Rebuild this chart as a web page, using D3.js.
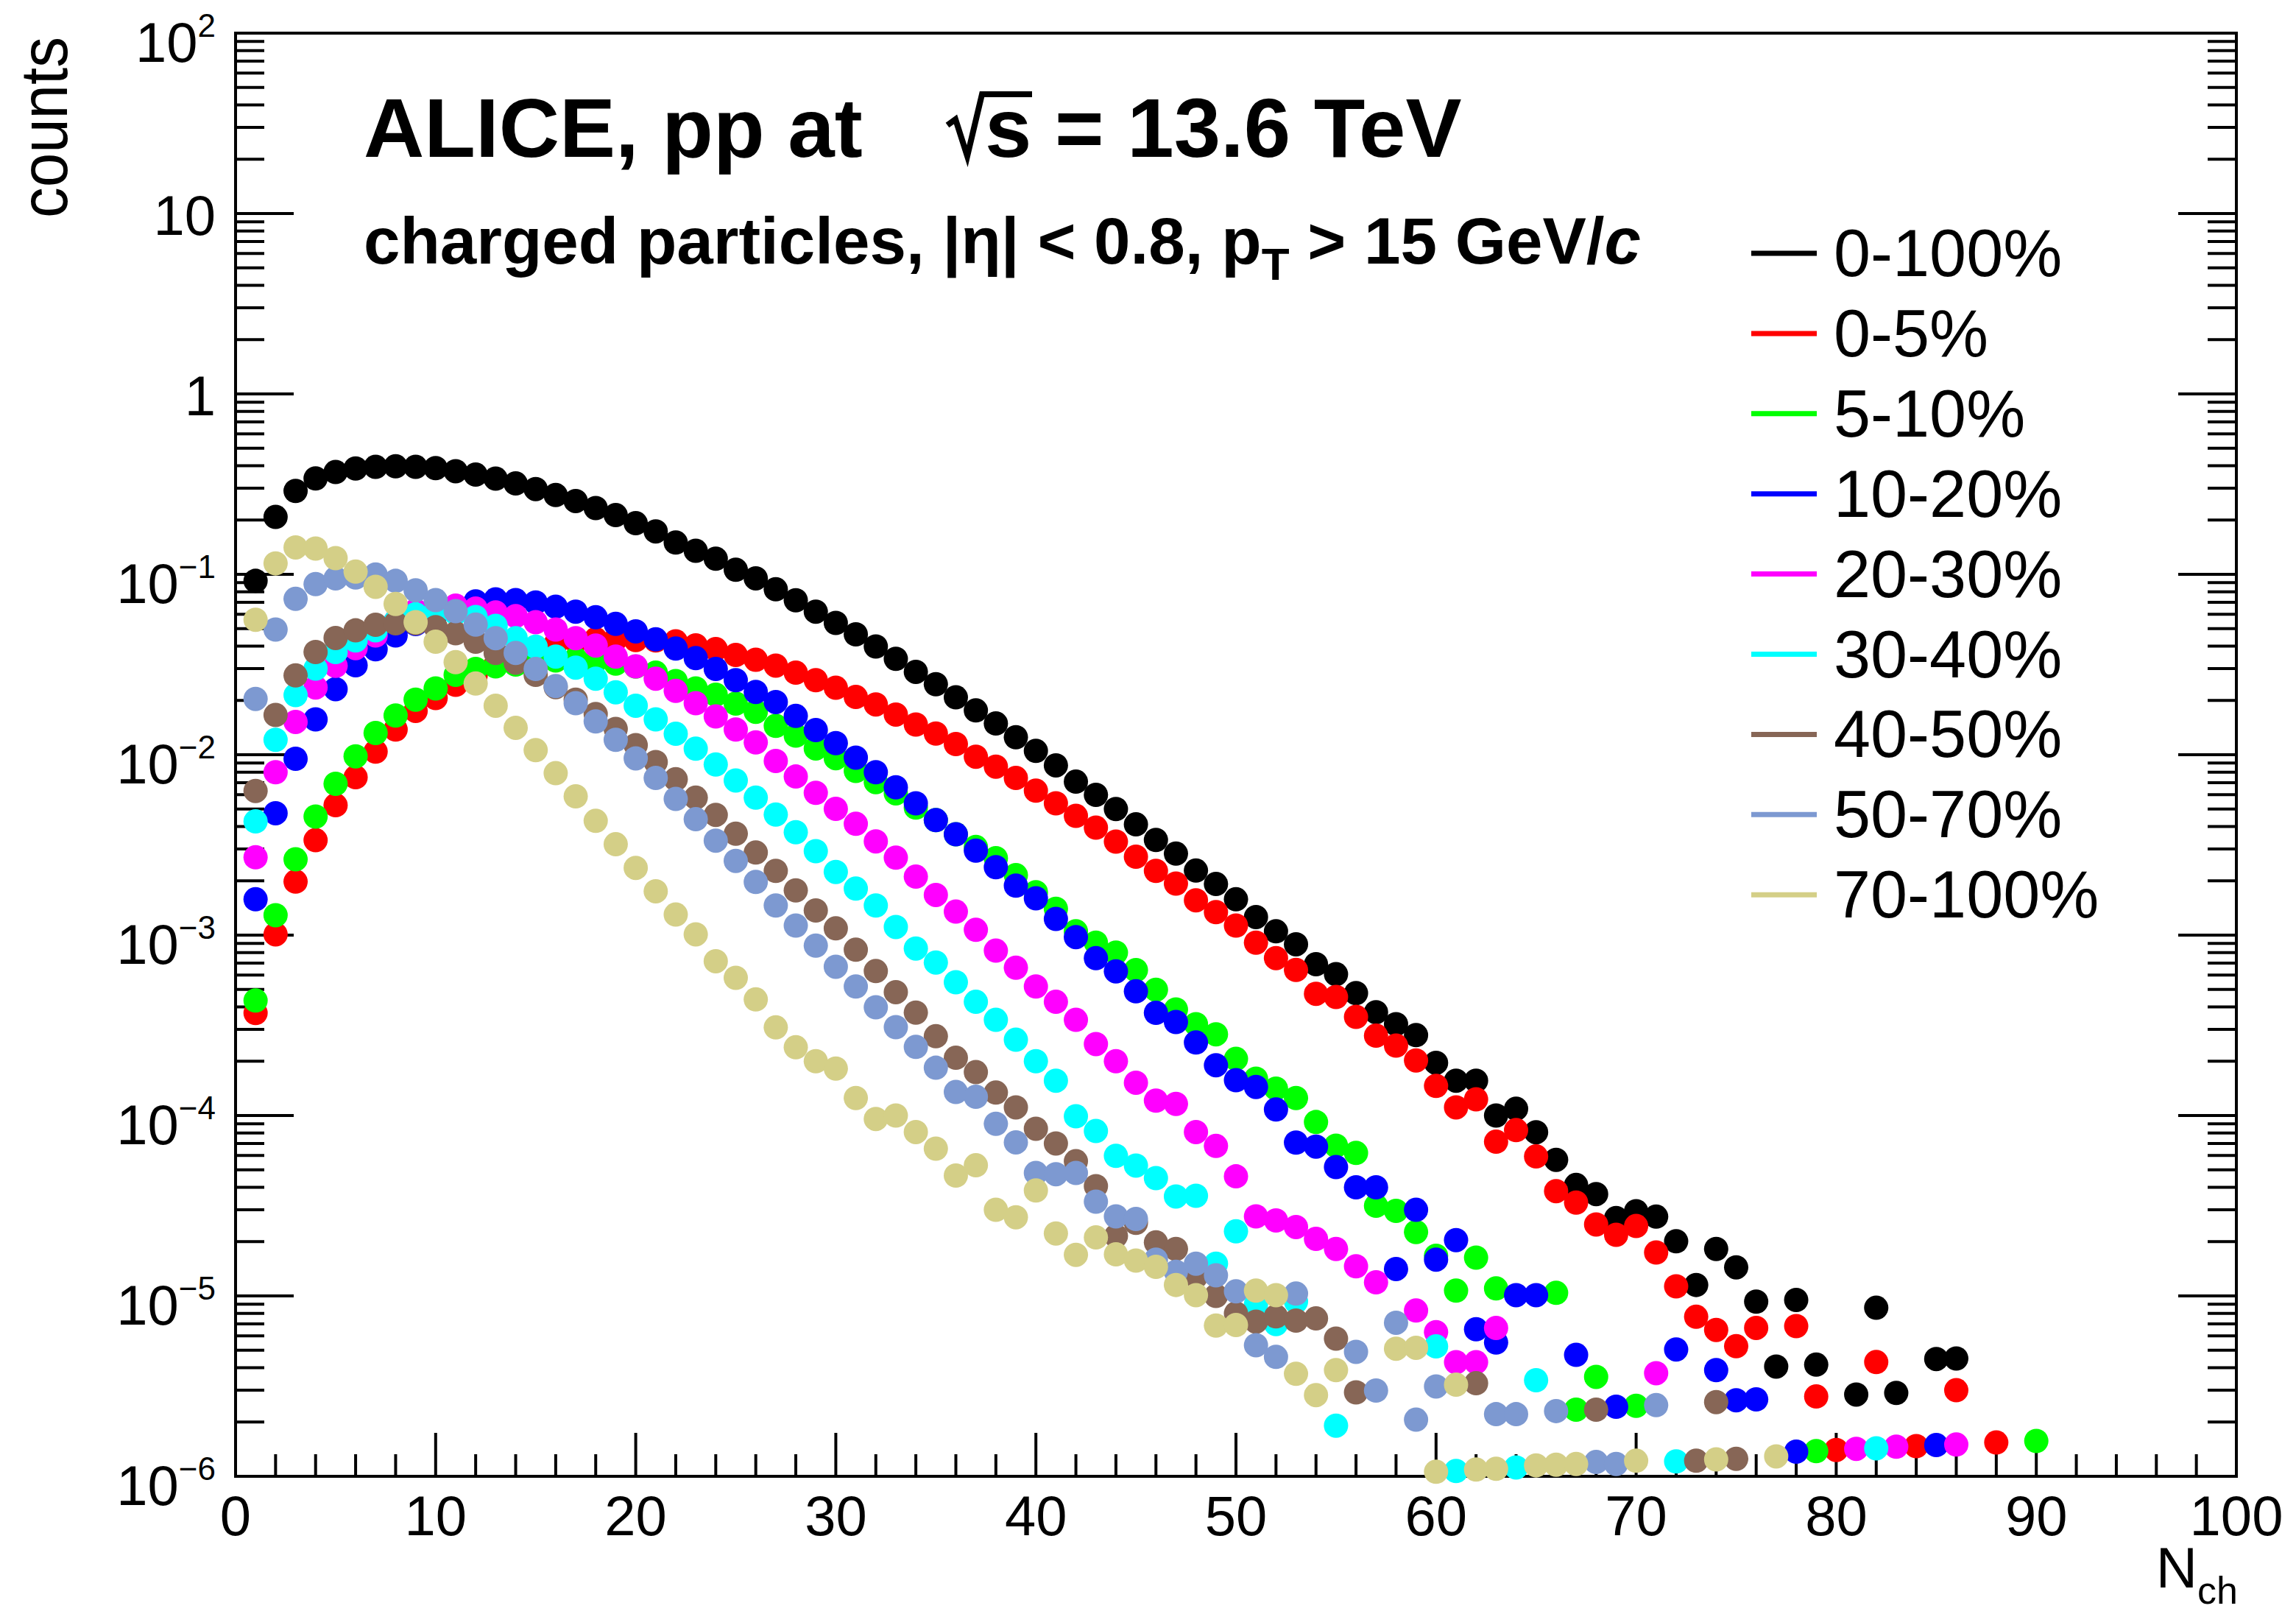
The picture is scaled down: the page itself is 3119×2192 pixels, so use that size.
<!DOCTYPE html>
<html>
<head>
<meta charset="utf-8">
<script src="https://cdn.jsdelivr.net/npm/d3@7"></script>
<style>
  body { margin: 0; background: #fff; }
  svg { display: block; }
  text { font-family: "Liberation Sans", Arial, Helvetica, sans-serif; }
</style>
</head>
<body>
<svg id="chart" width="3119" height="2192"></svg>
<script>
// Multiplicity of charged particles (|eta| < 0.8, pT > 15 GeV/c), normalised counts.
// Each array starts at Nch = 1; null marks an empty bin.
const nchStart = 1;

const centralityLabels = ["0-100%", "0-5%", "5-10%", "10-20%", "20-30%", "30-40%", "40-50%", "50-70%", "70-100%"];
const centralityColors = ["#000000", "#ff0000", "#00ff00", "#0000ff", "#ff00ff", "#00ffff", "#876656", "#7d99d1", "#d4cf87"];

const cent0_100 = [
  0.092, 0.208, 0.29, 0.34, 0.369, 0.386, 0.394, 0.397, 0.394, 0.388,
  0.373, 0.357, 0.339, 0.319, 0.297, 0.275, 0.255, 0.233, 0.213, 0.192,
  0.173, 0.150, 0.135, 0.122, 0.106, 0.095, 0.0826, 0.0718, 0.0621, 0.0538,
  0.0465, 0.0398, 0.034, 0.0288, 0.0246, 0.0208, 0.0176, 0.0149, 0.0125, 0.0105,
  0.00873, 0.00709, 0.00599, 0.0050, 0.00411, 0.00337, 0.00283, 0.00228, 0.00192, 0.00158,
  0.00126, 0.00105, 0.00089, 6.9e-4, 6.07e-4, 4.77e-4, 3.74e-4, 3.21e-4, 2.79e-4, 1.96e-4,
  1.56e-4, 1.56e-4, 1.0e-4, 1.09e-4, 8.08e-5, 5.68e-5, 4.12e-5, 3.67e-5, 2.70e-5, 2.95e-5,
  2.75e-5, 2.01e-5, 1.15e-5, 1.82e-5, 1.44e-5, 9.3e-6, 4.06e-6, 9.5e-6, 4.16e-6, null,
  2.84e-6, 8.6e-6, 2.9e-6, null, 4.47e-6, 4.5e-6
];

const cent0_5 = [
  3.7e-4, 1.01e-3, 1.98e-3, 3.36e-3, 5.25e-3, 7.5e-3, 0.0104, 0.0138, 0.0175, 0.0206,
  0.0244, 0.0275, 0.0316, 0.0355, 0.0389, 0.0412, 0.0427, 0.0437, 0.0437, 0.0432,
  0.043, 0.0425, 0.0404, 0.0385, 0.0357, 0.0336, 0.0312, 0.0285, 0.0259, 0.0235,
  0.0209, 0.0190, 0.0167, 0.0147, 0.0131, 0.01146, 0.00975, 0.00859, 0.00743, 0.00632,
  0.00538, 0.00458, 0.00394, 0.00330, 0.00272, 0.00227, 0.00193, 0.00156, 0.00134, 0.00113,
  9.08e-4, 7.46e-4, 6.41e-4, 4.73e-4, 4.54e-4, 3.52e-4, 2.77e-4, 2.44e-4, 2.02e-4, 1.46e-4,
  1.11e-4, 1.23e-4, 7.16e-5, 8.3e-5, 5.93e-5, 3.81e-5, 3.29e-5, 2.49e-5, 2.18e-5, 2.44e-5,
  1.74e-5, 1.13e-5, 7.66e-6, 6.48e-6, 5.26e-6, 6.65e-6, null, 6.8e-6, 2.77e-6, 1.4e-6,
  null, 4.3e-6, null, 1.47e-6, null, 3.0e-6, null, 1.54e-6
];

const cent5_10 = [
  4.34e-4, 1.29e-3, 2.63e-3, 4.54e-3, 6.9e-3, 9.8e-3, 0.0132, 0.0165, 0.0202, 0.0233,
  0.0277, 0.0299, 0.0309, 0.0316, 0.0324, 0.0333, 0.0339, 0.0331, 0.032, 0.0308,
  0.0285, 0.0256, 0.0233, 0.0215, 0.0192, 0.0173, 0.01445, 0.01276, 0.01084, 0.00957,
  0.00813, 0.00705, 0.00611, 0.00509, 0.00434, 0.00362, 0.00308, 0.00267, 0.00215, 0.00173,
  0.0014, 0.00105, 9.08e-4, 8.0e-4, 6.4e-4, 4.98e-4, 3.87e-4, 3.21e-4, 2.82e-4, 2.06e-4,
  1.6e-4, 1.41e-4, 1.25e-4, 9.2e-5, 6.8e-5, 6.2e-5, 3.16e-5, 2.96e-5, 2.26e-5, 1.67e-5,
  1.07e-5, 1.63e-5, 1.10e-5, null, null, 1.04e-5, 2.34e-6, 3.56e-6, null, 2.46e-6,
  null, null, null, null, null, null, null, null, 1.38e-6, null,
  null, null, null, null, null, null, null, null, null, 1.57e-6
];

const cent10_20 = [
  1.58e-3, 4.74e-3, 9.5e-3, 0.0157, 0.0231, 0.0313, 0.0384, 0.0458, 0.053, 0.060,
  0.0665, 0.0708, 0.0726, 0.0719, 0.0698, 0.0661, 0.0621, 0.0578, 0.0531, 0.0483,
  0.0436, 0.0388, 0.0343, 0.0299, 0.0259, 0.0223, 0.0196, 0.0164, 0.0137, 0.0116,
  0.00964, 0.0080, 0.0066, 0.00538, 0.00434, 0.00362, 0.00294, 0.00238, 0.00188, 0.0016,
  0.00123, 9.75e-4, 7.45e-4, 6.3e-4, 4.88e-4, 3.71e-4, 3.30e-4, 2.54e-4, 1.9e-4, 1.57e-4,
  1.44e-4, 1.08e-4, 7.08e-5, 6.73e-5, 5.18e-5, 4.0e-5, 4.0e-5, 1.41e-5, 3.0e-5, 1.59e-5,
  2.04e-5, 6.53e-6, 5.52e-6, 1.01e-5, 1.01e-5, null, 4.71e-6, null, 2.43e-6, null,
  null, 5.05e-6, null, 3.88e-6, 2.64e-6, 2.67e-6, null, 1.37e-6, null, null,
  null, null, null, null, 1.49e-6
];

const cent20_30 = [
  2.7e-3, 8.0e-3, 0.0152, 0.0236, 0.0311, 0.039, 0.0458, 0.055, 0.063, 0.066,
  0.067, 0.0646, 0.0615, 0.0587, 0.0543, 0.0494, 0.0443, 0.0403, 0.035, 0.0309,
  0.0264, 0.0226, 0.0193, 0.0163, 0.0138, 0.0117, 0.00923, 0.00757, 0.00615, 0.00501,
  0.00414, 0.00331, 0.00269, 0.00211, 0.00167, 0.00135, 0.00107, 8.2e-4, 6.6e-4, 5.19e-4,
  4.27e-4, 3.39e-4, 2.49e-4, 2.0e-4, 1.52e-4, 1.21e-4, 1.16e-4, 8.1e-5, 6.78e-5, 4.6e-5,
  2.76e-5, 2.62e-5, 2.41e-5, 2.07e-5, 1.82e-5, 1.46e-5, 1.19e-5, null, 8.3e-6, 6.3e-6,
  4.29e-6, 4.29e-6, 6.64e-6, null, null, null, null, null, null, null,
  3.73e-6, null, null, null, null, null, null, null, null, null,
  1.42e-6, null, 1.46e-6, null, null, 1.5e-6
];

const cent30_40 = [
  4.27e-3, 0.0121, 0.0214, 0.030, 0.0371, 0.043, 0.0489, 0.055, 0.060, 0.062,
  0.061, 0.058, 0.0518, 0.0443, 0.0397, 0.035, 0.0304, 0.0264, 0.0222, 0.0187,
  0.0157, 0.01306, 0.0108, 0.00883, 0.0072, 0.00578, 0.00466, 0.00372, 0.00292, 0.00224,
  0.00181, 0.00146, 0.00111, 8.43e-4, 7.05e-4, 5.48e-4, 4.27e-4, 3.39e-4, 2.63e-4, 2.0e-4,
  1.56e-4, 9.9e-5, 8.2e-5, 5.98e-5, 5.28e-5, 4.5e-5, 3.56e-5, 3.59e-5, 1.51e-5, 2.28e-5,
  8.97e-6, 6.98e-6, 9.3e-6, null, 1.91e-6, null, null, null, null, 5.25e-6,
  1.07e-6, null, null, 1.12e-6, 3.41e-6, null, null, null, null, null,
  null, 1.21e-6, null, null, null, null, null, null, null, null,
  null, 1.43e-6
];

const cent40_50 = [
  6.3e-3, 0.0166, 0.0275, 0.0371, 0.0444, 0.0489, 0.0525, 0.0535, 0.0535, 0.051,
  0.0471, 0.0423, 0.0367, 0.0324, 0.0277, 0.0237, 0.0202, 0.0168, 0.0139, 0.0113,
  0.0091, 0.00731, 0.00578, 0.00464, 0.00365, 0.00287, 0.00227, 0.00177, 0.00137, 0.00109,
  8.3e-4, 6.32e-4, 4.83e-4, 3.72e-4, 2.75e-4, 2.09e-4, 1.74e-4, 1.34e-4, 1.11e-4, 8.45e-5,
  7.0e-5, 5.58e-5, 4.06e-5, 2.15e-5, 2.54e-5, 1.98e-5, 1.82e-5, 1.28e-5, 1.0e-5, 8.0e-6,
  7.2e-6, 7.7e-6, 7.3e-6, 7.5e-6, 5.8e-6, 2.92e-6, null, null, null, null,
  null, 3.28e-6, null, null, null, null, null, 2.34e-6, null, null,
  null, null, 1.22e-6, 2.58e-6, 1.25e-6
];

const cent50_70 = [
  0.0204, 0.0494, 0.0731, 0.0882, 0.0949, 0.096, 0.0997, 0.092, 0.0816, 0.0719,
  0.0625, 0.0526, 0.0443, 0.0367, 0.0299, 0.024, 0.0193, 0.0153, 0.0121, 0.00955,
  0.00743, 0.00569, 0.00439, 0.00334, 0.00258, 0.00197, 0.00146, 0.00113, 8.75e-4, 6.68e-4,
  5.19e-4, 3.98e-4, 3.09e-4, 2.4e-4, 1.84e-4, 1.35e-4, 1.27e-4, 9.0e-5, 7.1e-5, 4.8e-5,
  4.73e-5, 4.8e-5, 3.33e-5, 2.76e-5, 2.67e-5, 1.59e-5, 1.36e-5, 1.51e-5, 1.30e-5, 1.06e-5,
  5.33e-6, 4.59e-6, 1.03e-5, null, null, 4.9e-6, 2.99e-6, 7.1e-6, 2.06e-6, 3.15e-6,
  null, null, 2.21e-6, 2.21e-6, null, 2.3e-6, null, 1.2e-6, 1.17e-6, null,
  2.48e-6
];

const cent70_100 = [
  0.056, 0.115, 0.141, 0.139, 0.123, 0.1035, 0.0853, 0.0685, 0.0543, 0.0423,
  0.0326, 0.0248, 0.0187, 0.0141, 0.0106, 0.0079, 0.00588, 0.0043, 0.00319, 0.00236,
  0.00175, 0.0013, 0.00101, 7.17e-4, 5.8e-4, 4.4e-4, 3.08e-4, 2.39e-4, 2.0e-4, 1.82e-4,
  1.25e-4, 9.57e-5, 1.0e-4, 8.1e-5, 6.55e-5, 4.65e-5, 5.3e-5, 3.0e-5, 2.73e-5, 3.84e-5,
  2.22e-5, 1.69e-5, 2.11e-5, 1.70e-5, 1.57e-5, 1.45e-5, 1.15e-5, 1.01e-5, 6.85e-6, 6.9e-6,
  1.07e-5, 1.01e-5, 3.7e-6, 2.82e-6, 3.88e-6, null, null, 5.1e-6, 5.16e-6, 1.06e-6,
  3.22e-6, 1.09e-6, 1.1e-6, null, 1.15e-6, 1.16e-6, 1.17e-6, null, null, 1.22e-6,
  null, null, null, 1.24e-6, null, null, 1.29e-6
];

const seriesValues = [cent0_100, cent0_5, cent5_10, cent10_20, cent20_30, cent30_40, cent40_50, cent50_70, cent70_100];

// Axis definitions
const xDomain = [0, 100];
const yDomain = [1e-6, 1e2];
const xMajorTicks = [0, 10, 20, 30, 40, 50, 60, 70, 80, 90, 100];
const yMajorExponents = [-6, -5, -4, -3, -2, -1, 0, 1, 2];

// ---------------------------------------------------------------
const frame = { left: 320, right: 3038, top: 45, bottom: 2005 };
const svg = d3.select("#chart");

const x = d3.scaleLinear().domain(xDomain).range([frame.left, frame.right]);
const y = d3.scaleLog().domain(yDomain).range([frame.bottom, frame.top]);

const axisG = svg.append("g").attr("stroke", "#000").attr("stroke-width", 4);

// x ticks (inside the frame, pointing up)
const xMinor = x.ticks(50);
axisG.append("g").selectAll("line").data(xMinor).join("line")
  .attr("x1", d => x(d)).attr("x2", d => x(d))
  .attr("y1", frame.bottom)
  .attr("y2", d => frame.bottom - (xMajorTicks.includes(d) ? 59 : 30));

// y ticks on left and right
const yAll = y.ticks();
const isMajorY = d => Math.abs(Math.log10(d) - Math.round(Math.log10(d))) < 1e-9;
axisG.append("g").selectAll("line").data(yAll).join("line")
  .attr("x1", frame.left).attr("x2", d => frame.left + (isMajorY(d) ? 79 : 39))
  .attr("y1", d => y(d)).attr("y2", d => y(d));
axisG.append("g").selectAll("line").data(yAll).join("line")
  .attr("x1", frame.right).attr("x2", d => frame.right - (isMajorY(d) ? 79 : 39))
  .attr("y1", d => y(d)).attr("y2", d => y(d));

// frame
svg.append("rect")
  .attr("x", frame.left).attr("y", frame.top)
  .attr("width", frame.right - frame.left).attr("height", frame.bottom - frame.top)
  .attr("fill", "none").attr("stroke", "#000").attr("stroke-width", 4);

// x tick labels
svg.append("g").selectAll("text").data(xMajorTicks).join("text")
  .attr("x", d => x(d)).attr("y", 2085)
  .attr("text-anchor", "middle").attr("font-size", 76)
  .text(d => d);

// y tick labels
const yLab = svg.append("g").attr("font-size", 76).attr("text-anchor", "end");
yMajorExponents.forEach(e => {
  const ty = y(Math.pow(10, e));
  if (e === 0 || e === 1) {
    yLab.append("text").attr("x", 293).attr("y", ty + 29).text(e === 0 ? "1" : "10");
  } else {
    const t = yLab.append("text").attr("x", 293).attr("y", ty + 39);
    t.append("tspan").text("10");
    t.append("tspan").attr("dy", -34).attr("font-size", 44).text(e < 0 ? "\u2212" + (-e) : e);
  }
});

// axis titles
svg.append("text")
  .attr("transform", "translate(91,50) rotate(-90)")
  .attr("text-anchor", "end").attr("font-size", 90)
  .attr("textLength", 246).attr("lengthAdjust", "spacingAndGlyphs")
  .text("counts");

const xt = svg.append("text").attr("x", 3040).attr("y", 2156)
  .attr("text-anchor", "end").attr("font-size", 78);
xt.append("tspan").text("N");
xt.append("tspan").attr("dy", 22).attr("font-size", 52).text("ch");

// markers: later classes drawn on top
seriesValues.forEach((vals, k) => {
  const pts = vals.map((v, i) => ({ n: nchStart + i, v }))
    .filter(d => d.v !== null && d.v >= yDomain[0] && d.v <= yDomain[1]);
  svg.append("g").selectAll("circle").data(pts).join("circle")
    .attr("cx", d => x(d.n)).attr("cy", d => y(d.v))
    .attr("r", 16.5).attr("fill", centralityColors[k]);
});

// title block
const title = svg.append("g").attr("font-weight", "bold");
title.append("text").attr("x", 494).attr("y", 213).attr("font-size", 114).text("ALICE, pp at");
title.append("path")
  .attr("d", "M1287,170 L1298,162 L1314,212 L1334,128 L1402,128")
  .attr("fill", "none").attr("stroke", "#000").attr("stroke-width", 8).attr("stroke-linejoin", "miter");
title.append("text").attr("x", 1338).attr("y", 213).attr("font-size", 114).text("s = 13.6 TeV");

const sub = title.append("text").attr("x", 494).attr("y", 358).attr("font-size", 89);
sub.append("tspan").text("charged particles, |\u03b7| < 0.8, p");
sub.append("tspan").attr("dy", 22).attr("font-size", 62).text("T");
sub.append("tspan").attr("dy", -22).text(" > 15 GeV/");
sub.append("tspan").attr("font-style", "italic").text("c");

// legend
const legend = svg.append("g");
centralityLabels.forEach((lab, i) => {
  const ly = 344 + i * 108.9;
  legend.append("line")
    .attr("x1", 2379).attr("x2", 2468).attr("y1", ly).attr("y2", ly)
    .attr("stroke", centralityColors[i]).attr("stroke-width", 7);
  legend.append("text").attr("x", 2491).attr("y", ly + 31)
    .attr("font-size", 90).text(lab);
});
</script>
</body>
</html>
